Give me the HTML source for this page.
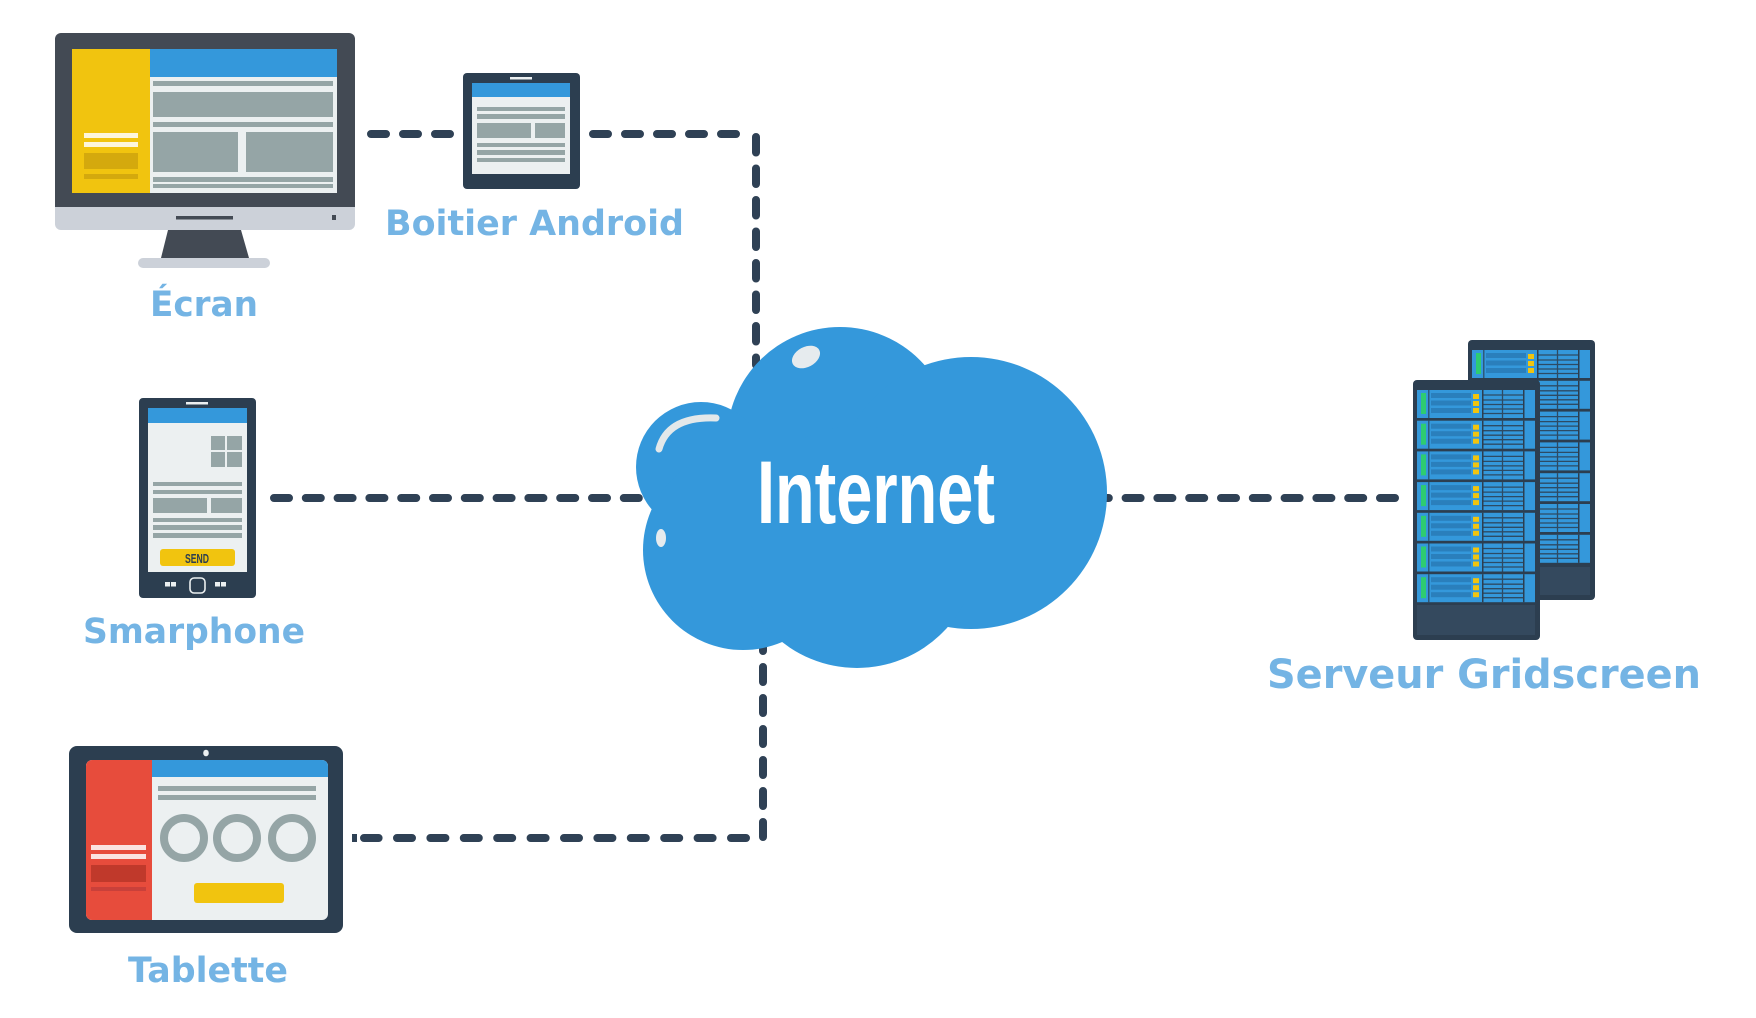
<!DOCTYPE html>
<html>
<head>
<meta charset="utf-8">
<style>
html,body{margin:0;padding:0;background:#fff;}
svg{display:block;}
.lbl{font-family:"DejaVu Sans","Liberation Sans",sans-serif;font-weight:bold;fill:#74b4e4;}
</style>
</head>
<body>
<svg width="1756" height="1018" viewBox="0 0 1756 1018" xmlns="http://www.w3.org/2000/svg">
<defs>
  <g id="u">
    <rect width="118" height="28" fill="#3498db"/>
    <rect x="4" y="3" width="5" height="21" fill="#2ecc71"/>
    <rect x="11" y="0" width="1.5" height="28" fill="#2c3e50" opacity="0.7"/>
    <rect x="14" y="3" width="40" height="5" fill="#2a7fbc"/>
    <rect x="14" y="10.5" width="40" height="5" fill="#2a7fbc"/>
    <rect x="14" y="18" width="40" height="5" fill="#2a7fbc"/>
    <rect x="56" y="4" width="6" height="5" fill="#f1c40f"/>
    <rect x="56" y="11" width="6" height="5" fill="#f1c40f"/>
    <rect x="56" y="18" width="6" height="5" fill="#f1c40f"/>
    <rect x="65" y="0" width="1.5" height="28" fill="#2c3e50"/>
    <g stroke="#2c3e50" stroke-width="1.3" opacity="0.85">
      <line x1="66" y1="5" x2="106" y2="5"/>
      <line x1="66" y1="10" x2="106" y2="10"/>
      <line x1="66" y1="14.5" x2="106" y2="14.5"/>
      <line x1="66" y1="19" x2="106" y2="19"/>
      <line x1="66" y1="23.5" x2="106" y2="23.5"/>
      <line x1="85.5" y1="0" x2="85.5" y2="28"/>
    </g>
    <rect x="106" y="0" width="1.5" height="28" fill="#2c3e50"/>
  </g>
</defs>

<!-- ===== Dashed connectors ===== -->
<g stroke="#2f4155" stroke-width="8" stroke-linecap="round" fill="none">
  <line x1="371" y1="134" x2="450" y2="134" stroke-dasharray="15 17"/>
  <line x1="736" y1="134" x2="593" y2="134" stroke-dasharray="15 17"/>
  <line x1="756" y1="137" x2="756" y2="365" stroke-dasharray="15.5 16"/>
  <line x1="274" y1="498" x2="660" y2="498" stroke-dasharray="15 16.8"/>
  <line x1="1395" y1="498" x2="1094" y2="498" stroke-dasharray="15 16.8"/>
  <line x1="746" y1="838" x2="364" y2="838" stroke-dasharray="15 18.4"/>
  <line x1="763" y1="837" x2="763" y2="640" stroke-dasharray="15 16"/>
</g>
<rect x="352" y="834" width="5" height="8" fill="#2f4155"/>

<!-- ===== Monitor (Écran) ===== -->
<rect x="55" y="33" width="300" height="185" rx="6" fill="#434a54"/>
<rect x="55" y="207" width="300" height="23" rx="6" fill="#ccd1d9"/>
<rect x="55" y="207" width="300" height="10" fill="#ccd1d9"/>
<rect x="72" y="49" width="265" height="144" fill="#ecf0f1"/>
<rect x="72" y="49" width="78" height="144" fill="#f1c40f"/>
<rect x="150" y="49" width="187" height="28" fill="#3498db"/>
<g fill="#95a5a6">
  <rect x="153" y="81" width="180" height="5"/>
  <rect x="153" y="92" width="180" height="25"/>
  <rect x="153" y="122" width="180" height="5"/>
  <rect x="153" y="132" width="85" height="40"/>
  <rect x="246" y="132" width="87" height="40"/>
  <rect x="153" y="177" width="180" height="5"/>
  <rect x="153" y="184" width="180" height="4"/>
</g>
<rect x="84" y="133" width="54" height="5" fill="#fdf6dc"/>
<rect x="84" y="142" width="54" height="5" fill="#fdf6dc"/>
<rect x="84" y="153" width="54" height="16" fill="#d4a90d"/>
<rect x="84" y="174" width="54" height="5" fill="#d4a90d"/>
<rect x="176" y="216" width="57" height="3.5" fill="#434a54"/>
<rect x="332" y="215" width="4" height="5" fill="#434a54"/>
<polygon points="168,230 241,230 249,258 161,258" fill="#434a54"/>
<rect x="138" y="258" width="132" height="10" rx="5" fill="#ccd1d9"/>

<!-- ===== Android box ===== -->
<rect x="463" y="73" width="117" height="116" rx="4" fill="#2c3e50"/>
<rect x="472" y="83" width="98" height="91" fill="#ecf0f1"/>
<rect x="472" y="83" width="98" height="14" fill="#3498db"/>
<rect x="510" y="77" width="22" height="2.5" fill="#ecf0f1"/>
<g fill="#95a5a6">
  <rect x="477" y="107" width="88" height="4"/>
  <rect x="477" y="114" width="88" height="5"/>
  <rect x="477" y="123" width="54" height="15"/>
  <rect x="535" y="123" width="30" height="15"/>
  <rect x="477" y="143" width="88" height="4"/>
  <rect x="477" y="150" width="88" height="5"/>
  <rect x="477" y="158" width="88" height="4"/>
</g>

<!-- ===== Smartphone ===== -->
<rect x="139" y="398" width="117" height="200" rx="4" fill="#2c3e50"/>
<rect x="148" y="408" width="99" height="164" fill="#ecf0f1"/>
<rect x="148" y="408" width="99" height="15" fill="#3498db"/>
<rect x="186" y="402" width="22" height="2.5" fill="#ecf0f1"/>
<g fill="#95a5a6">
  <rect x="211" y="436" width="14" height="14"/>
  <rect x="227" y="436" width="15" height="14"/>
  <rect x="211" y="452" width="14" height="15"/>
  <rect x="227" y="452" width="15" height="15"/>
  <rect x="153" y="482" width="89" height="4"/>
  <rect x="153" y="490" width="89" height="4"/>
  <rect x="153" y="498" width="54" height="15"/>
  <rect x="211" y="498" width="31" height="15"/>
  <rect x="153" y="518" width="89" height="4"/>
  <rect x="153" y="525" width="89" height="5"/>
  <rect x="153" y="533" width="89" height="5"/>
</g>
<rect x="160" y="549" width="75" height="17" rx="3" fill="#f1c40f"/>
<text x="185" y="563" font-family="Liberation Sans, sans-serif" font-weight="bold" font-size="13" fill="#2c3e50" textLength="24" lengthAdjust="spacingAndGlyphs">SEND</text>
<g fill="#ecf0f1">
  <rect x="165" y="582" width="5" height="4.5"/>
  <rect x="171" y="582" width="5" height="4.5"/>
  <rect x="215" y="582" width="5" height="4.5"/>
  <rect x="221" y="582" width="5" height="4.5"/>
</g>
<rect x="190" y="578" width="15" height="15" rx="4" fill="none" stroke="#ecf0f1" stroke-width="1.6"/>

<!-- ===== Tablet ===== -->
<rect x="69" y="746" width="274" height="187" rx="8" fill="#2c3e50"/>
<rect x="86" y="760" width="242" height="160" rx="6" fill="#ecf0f1"/>
<path d="M92 760 H152 V920 H92 A6 6 0 0 1 86 914 V766 A6 6 0 0 1 92 760 Z" fill="#e74c3c"/>
<path d="M152 760 H322 A6 6 0 0 1 328 766 V777 H152 Z" fill="#3498db"/>
<ellipse cx="206" cy="753" rx="2.8" ry="3.3" fill="#ecf0f1"/>
<rect x="158" y="786" width="158" height="5" fill="#95a5a6"/>
<rect x="158" y="795" width="158" height="5" fill="#95a5a6"/>
<g fill="none" stroke="#95a5a6" stroke-width="8">
  <circle cx="184" cy="838" r="20"/>
  <circle cx="237" cy="838" r="20"/>
  <circle cx="292" cy="838" r="20"/>
</g>
<rect x="194" y="883" width="90" height="20" rx="3" fill="#f1c40f"/>
<rect x="91" y="845" width="55" height="5" fill="#fbe3e0"/>
<rect x="91" y="854" width="55" height="5" fill="#fbe3e0"/>
<rect x="91" y="865" width="55" height="17" fill="#c0392b"/>
<rect x="91" y="887" width="55" height="4" fill="#c9403a"/>

<!-- ===== Cloud ===== -->
<g fill="#3498db">
  <circle cx="840" cy="440" r="113"/>
  <circle cx="971" cy="493" r="136"/>
  <circle cx="701" cy="467" r="65"/>
  <circle cx="743" cy="550" r="100"/>
  <circle cx="857" cy="547" r="121"/>
  <rect x="700" y="440" width="300" height="160"/>
</g>
<ellipse cx="806" cy="357" rx="15" ry="10" transform="rotate(-28 806 357)" fill="#e6ebee"/>
<path d="M659 449 Q668 416 716 418" fill="none" stroke="#e3e8ea" stroke-width="7" stroke-linecap="round"/>
<ellipse cx="661" cy="538" rx="5" ry="9" fill="#e6ebee"/>
<text x="757" y="523" font-family="Liberation Sans, sans-serif" font-weight="bold" font-size="89" fill="#ffffff" textLength="238" lengthAdjust="spacingAndGlyphs">Internet</text>

<!-- ===== Servers ===== -->
<rect x="1468" y="340" width="127" height="260" rx="4" fill="#2c3e50"/>
<use href="#u" x="1472" y="350"/>
<use href="#u" x="1472" y="380.8"/>
<use href="#u" x="1472" y="411.6"/>
<use href="#u" x="1472" y="442.4"/>
<use href="#u" x="1472" y="473.2"/>
<use href="#u" x="1472" y="504"/>
<use href="#u" x="1472" y="534.8"/>
<rect x="1472" y="567" width="118" height="28" fill="#34495e"/>

<rect x="1413" y="380" width="127" height="260" rx="4" fill="#2c3e50"/>
<use href="#u" x="1417" y="390"/>
<use href="#u" x="1417" y="420.7"/>
<use href="#u" x="1417" y="451.4"/>
<use href="#u" x="1417" y="482.1"/>
<use href="#u" x="1417" y="512.8"/>
<use href="#u" x="1417" y="543.5"/>
<use href="#u" x="1417" y="574.2"/>
<rect x="1417" y="605" width="118" height="30" fill="#34495e"/>

<!-- ===== Labels ===== -->
<text class="lbl" x="150" y="316" font-size="35" textLength="108" lengthAdjust="spacingAndGlyphs">Écran</text>
<text class="lbl" x="385" y="235" font-size="35" textLength="299" lengthAdjust="spacingAndGlyphs">Boitier Android</text>
<text class="lbl" x="83" y="643" font-size="35" textLength="222" lengthAdjust="spacingAndGlyphs">Smarphone</text>
<text class="lbl" x="128" y="982" font-size="35" textLength="160" lengthAdjust="spacingAndGlyphs">Tablette</text>
<text class="lbl" x="1267" y="688" font-size="40" textLength="434" lengthAdjust="spacingAndGlyphs">Serveur Gridscreen</text>
</svg>
</body>
</html>
